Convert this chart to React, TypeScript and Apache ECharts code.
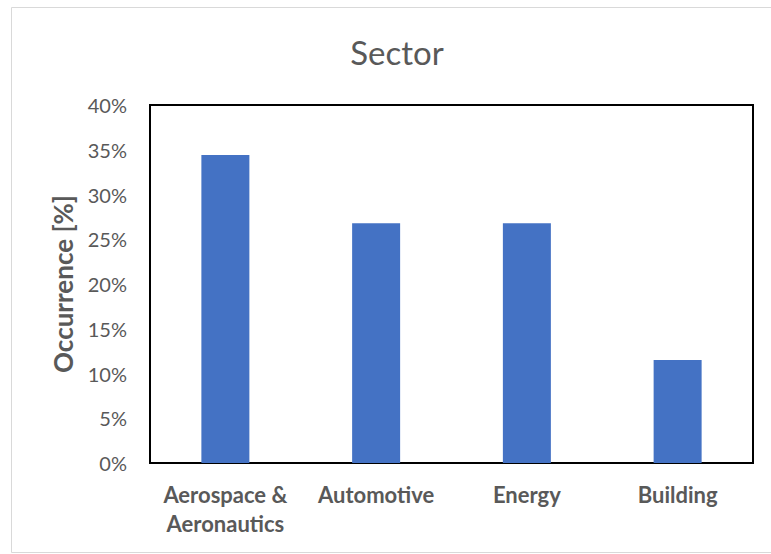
import React, { useEffect, useRef } from "react";
import * as echarts from "echarts";

const categories = ["Aerospace &\nAeronautics", "Automotive", "Energy", "Building"];
const occurrence = [34.4, 26.8, 26.8, 11.5];
const yTicks = { min: 0, max: 40, interval: 5 };
const titleText = "Sector";
const yName = "Occurrence [%]";

const FONT = "Lato, 'Open Sans', sans-serif";
const GREY = "#595959";

export default function App() {
  const ref = useRef<HTMLDivElement>(null);
  useEffect(() => {
    if (!ref.current) return;
    const chart = echarts.init(ref.current, null, { renderer: "svg" });
    chart.setOption({
      animation: false,
      backgroundColor: "#ffffff",
      graphic: [
        {
          type: "rect",
          shape: { x: 11.5, y: 7.5, width: 770, height: 545 },
          style: { fill: "none", stroke: "#d9d9d9", lineWidth: 1 },
          silent: true,
        },
        {
          type: "text",
          x: 397,
          y: 52,
          style: {
            text: titleText,
            fontFamily: FONT,
            fontSize: 33,
            fill: GREY,
            align: "center",
            verticalAlign: "middle",
          },
          silent: true,
        },
      ],
      grid: {
        left: 150,
        right: 18,
        top: 105,
        bottom: 91,
        show: true,
        borderColor: "#000000",
        borderWidth: 2,
        backgroundColor: "transparent",
      },
      xAxis: {
        type: "category",
        data: categories,
        axisLine: { show: true, lineStyle: { color: "#000000", width: 2 } },
        axisTick: { show: false },
        axisLabel: {
          interval: 0,
          margin: 17,
          fontFamily: FONT,
          fontSize: 22,
          fontWeight: "bold",
          color: GREY,
          lineHeight: 29,
        },
      },
      yAxis: {
        type: "value",
        min: yTicks.min,
        max: yTicks.max,
        interval: yTicks.interval,
        name: yName,
        nameLocation: "middle",
        nameGap: 74,
        nameRotate: 90,
        nameTextStyle: { fontFamily: FONT, fontSize: 26, fontWeight: "bold", color: GREY },
        axisLine: { show: true, lineStyle: { color: "#000000", width: 2 } },
        axisTick: { show: false },
        splitLine: { show: false },
        axisLabel: {
          margin: 23,
          fontFamily: FONT,
          fontSize: 20,
          color: GREY,
          formatter: (v: number) => `${v}%`,
        },
      },
      series: [
        {
          type: "bar",
          data: occurrence,
          barWidth: 48,
          itemStyle: { color: "#4472C4" },
        },
      ],
    });
    return () => chart.dispose();
  }, []);
  return (
    <div
      ref={ref}
      style={{ position: "fixed", left: 0, top: 0, width: 771, height: 554 }}
    />
  );
}
